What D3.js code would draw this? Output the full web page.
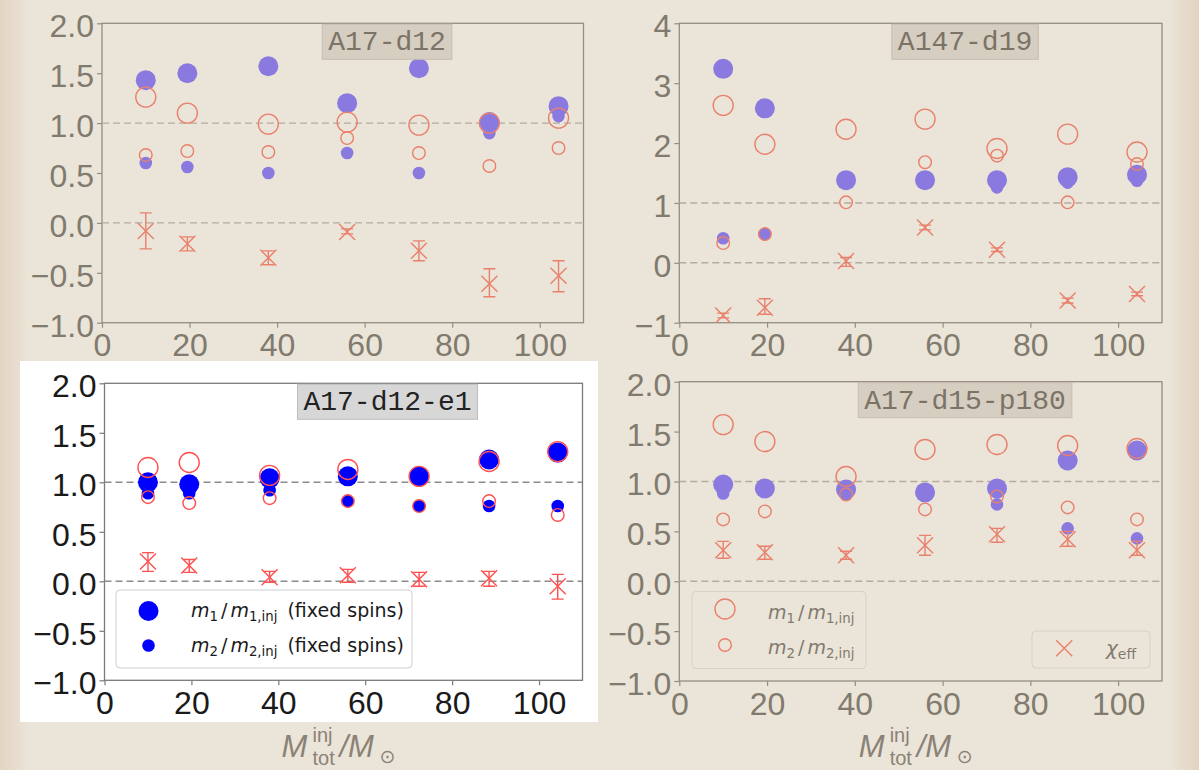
<!DOCTYPE html>
<html><head><meta charset="utf-8">
<script src="https://cdn.jsdelivr.net/npm/d3@7"></script>
<style>body{margin:0;background:#ebe4d8;} svg{display:block}</style>
</head><body>
<svg id="chart" width="1199" height="770"></svg>
<script>
// ---------------- DATA ----------------
const masses = [10, 19.5, 38, 56, 72.4, 88.5, 104.3];
const xTicks = [0, 20, 40, 60, 80, 100];
const yTicksUnit = [-1, -0.5, 0, 0.5, 1, 1.5, 2];
const yTicksWide = [-1, 0, 1, 2, 3, 4];

// A17-d12
const d12_m1Fixed = [1.43, 1.50, 1.57, 1.20, 1.55, 1.01, 1.17];
const d12_m2Fixed = [0.60, 0.56, 0.50, 0.70, 0.50, 0.90, 1.07];
const d12_m1 = [1.26, 1.10, 0.99, 1.01, 0.98, 1.00, 1.05];
const d12_m2 = [0.68, 0.72, 0.71, 0.85, 0.70, 0.57, 0.75];
const d12_chi = [-0.08, -0.21, -0.35, -0.09, -0.28, -0.61, -0.53];
const d12_chiLo = [-0.26, -0.28, -0.42, -0.11, -0.38, -0.74, -0.69];
const d12_chiHi = [0.10, -0.14, -0.28, -0.06, -0.18, -0.46, -0.38];

// A147-d19
const d19_m1Fixed = [3.24, 2.58, 1.38, 1.38, 1.38, 1.43, 1.47];
const d19_m2Fixed = [0.41, 0.48, 1.32, 1.33, 1.26, 1.34, 1.37];
const d19_m1 = [2.63, 1.98, 2.23, 2.40, 1.91, 2.15, 1.85];
const d19_m2 = [0.33, 0.48, 1.01, 1.68, 1.79, 1.01, 1.65];
const d19_chi = [-0.88, -0.75, 0.03, 0.59, 0.22, -0.63, -0.52];
const d19_chiLo = [-0.92, -0.86, -0.06, 0.55, 0.19, -0.67, -0.55];
const d19_chiHi = [-0.84, -0.60, 0.09, 0.63, 0.25, -0.59, -0.49];

// A17-d12-e1
const e1_m1Fixed = [1.00, 0.98, 1.04, 1.06, 1.06, 1.23, 1.30];
const e1_m2Fixed = [0.89, 0.89, 0.92, 0.81, 0.76, 0.76, 0.76];
const e1_m1 = [1.15, 1.20, 1.07, 1.13, 1.06, 1.21, 1.31];
const e1_m2 = [0.85, 0.79, 0.84, 0.81, 0.76, 0.81, 0.67];
const e1_chi = [0.20, 0.16, 0.04, 0.06, 0.02, 0.03, -0.05];
const e1_chiLo = [0.10, 0.09, -0.01, -0.01, -0.05, -0.05, -0.18];
const e1_chiHi = [0.29, 0.22, 0.10, 0.12, 0.09, 0.10, 0.07];

// A17-d15-p180
const p180_m1Fixed = [0.97, 0.93, 0.92, 0.89, 0.93, 1.21, 1.31];
const p180_m2Fixed = [0.88, 0.93, 0.87, 0.89, 0.77, 0.53, 0.43];
const p180_m1 = [1.57, 1.40, 1.05, 1.32, 1.37, 1.36, 1.33];
const p180_m2 = [0.62, 0.70, 0.87, 0.72, 0.85, 0.74, 0.62];
const p180_chi = [0.31, 0.29, 0.26, 0.36, 0.47, 0.42, 0.31];
const p180_chiLo = [0.23, 0.22, 0.22, 0.26, 0.39, 0.35, 0.26];
const p180_chiHi = [0.40, 0.35, 0.30, 0.46, 0.53, 0.50, 0.40];

// ---------------- STYLE ----------------
const faded = {
  blue: "#8a7ae0", red: "#e9806c", text: "#817a6e", frame: "#958d80",
  dash: "#b3ab9d", titleFill: "#d6cec1", titleStroke: "#c6bdaf", titleText: "#7b7366",
  legendFill: "#ebe4d8", legendStroke: "#d9d0c2"
};
const vivid = {
  blue: "#0000ff", red: "#ff5050", text: "#1a1a1a", frame: "#7a7a7a",
  dash: "#8c8c8c", titleFill: "#d7d7d7", titleStroke: "#bdbdbd", titleText: "#222",
  legendFill: "#ffffff", legendStroke: "#cfcfcf"
};

const svg = d3.select("#chart");
const defs = svg.append("defs");
const grad = defs.append("linearGradient").attr("id", "paper").attr("x1", 0).attr("x2", 1).attr("y1", 0).attr("y2", 0);
grad.append("stop").attr("offset", "0").attr("stop-color", "#e2d5c2");
grad.append("stop").attr("offset", "0.025").attr("stop-color", "#ebe4d8");
grad.append("stop").attr("offset", "0.975").attr("stop-color", "#ebe4d8");
grad.append("stop").attr("offset", "1").attr("stop-color", "#e1d3bf");
svg.append("rect").attr("width", 1199).attr("height", 770).attr("fill", "url(#paper)");

// white card behind the third panel
svg.append("rect").attr("x", 20).attr("y", 361).attr("width", 578).attr("height", 361).attr("fill", "#ffffff");

const panels = [
  {id: "p1", title: "A17-d12", left: 102, right: 583.5, top: 23.3, bottom: 322.7, yDomain: [-1, 2], yTicks: yTicksUnit, fmt: d3.format(".1f"), st: faded,
   m1F: d12_m1Fixed, m2F: d12_m2Fixed, m1: d12_m1, m2: d12_m2, chi: d12_chi, lo: d12_chiLo, hi: d12_chiHi},
  {id: "p2", title: "A147-d19", left: 679.3, right: 1162, top: 23.3, bottom: 322.7, yDomain: [-1, 4], yTicks: yTicksWide, fmt: d3.format("d"), st: faded,
   m1F: d19_m1Fixed, m2F: d19_m2Fixed, m1: d19_m1, m2: d19_m2, chi: d19_chi, lo: d19_chiLo, hi: d19_chiHi},
  {id: "p3", title: "A17-d12-e1", left: 104.5, right: 582.5, top: 383.3, bottom: 680.3, yDomain: [-1, 2], yTicks: yTicksUnit, fmt: d3.format(".1f"), st: vivid,
   m1F: e1_m1Fixed, m2F: e1_m2Fixed, m1: e1_m1, m2: e1_m2, chi: e1_chi, lo: e1_chiLo, hi: e1_chiHi},
  {id: "p4", title: "A17-d15-p180", left: 679.3, right: 1162, top: 381.7, bottom: 681, yDomain: [-1, 2], yTicks: yTicksUnit, fmt: d3.format(".1f"), st: faded,
   m1F: p180_m1Fixed, m2F: p180_m2Fixed, m1: p180_m1, m2: p180_m2, chi: p180_chi, lo: p180_chiLo, hi: p180_chiHi}
];

const RBIG = 10, RSMALL = 6.3, XS = 8, CAP = 6;

function xMark(g, cx, cy, s, color, w) {
  g.append("path").attr("d", `M${cx - s},${cy - s}L${cx + s},${cy + s}M${cx - s},${cy + s}L${cx + s},${cy - s}`)
    .attr("stroke", color).attr("stroke-width", w).attr("fill", "none");
}

panels.forEach(p => {
  const st = p.st;
  const x = d3.scaleLinear().domain([0, 110]).range([p.left, p.right]);
  const y = d3.scaleLinear().domain(p.yDomain).range([p.bottom, p.top]);
  const g = svg.append("g");

  defs.append("clipPath").attr("id", "clip-" + p.id).append("rect")
    .attr("x", p.left).attr("y", p.top).attr("width", p.right - p.left).attr("height", p.bottom - p.top);

  const ya = g.append("g").attr("transform", `translate(${p.left},0)`)
    .call(d3.axisLeft(y).tickValues(p.yTicks).tickFormat(p.fmt).tickSize(5).tickPadding(3));
  const xa = g.append("g").attr("transform", `translate(0,${p.bottom})`)
    .call(d3.axisBottom(x).tickValues(xTicks).tickSize(5).tickPadding(6));
  [ya, xa].forEach(a => {
    a.select(".domain").remove();
    a.selectAll(".tick line").attr("stroke", st.frame).attr("stroke-width", 1.2);
    a.selectAll(".tick text").attr("fill", st.text).style("font-family", "'Liberation Sans', Arial, sans-serif").style("font-size", "32px");
  });
  ya.selectAll(".tick text").attr("dy", "0.42em");

  g.append("rect").attr("x", p.left).attr("y", p.top).attr("width", p.right - p.left).attr("height", p.bottom - p.top)
    .attr("fill", "none").attr("stroke", st.frame).attr("stroke-width", 1.3);

  const plot = g.append("g").attr("clip-path", `url(#clip-${p.id})`);

  [0, 1].forEach(v => {
    plot.append("line").attr("x1", p.left).attr("x2", p.right).attr("y1", y(v)).attr("y2", y(v))
      .attr("stroke", st.dash).attr("stroke-width", 1.4).attr("stroke-dasharray", "7,4");
  });

  plot.selectAll(".b1").data(p.m1F).join("circle").attr("cx", (d, i) => x(masses[i])).attr("cy", d => y(d)).attr("r", RBIG).attr("fill", st.blue);
  plot.selectAll(".b2").data(p.m2F).join("circle").attr("cx", (d, i) => x(masses[i])).attr("cy", d => y(d)).attr("r", RSMALL).attr("fill", st.blue);
  plot.selectAll(".r1").data(p.m1).join("circle").attr("cx", (d, i) => x(masses[i])).attr("cy", d => y(d)).attr("r", RBIG)
    .attr("fill", "none").attr("stroke", st.red).attr("stroke-width", 1.4);
  plot.selectAll(".r2").data(p.m2).join("circle").attr("cx", (d, i) => x(masses[i])).attr("cy", d => y(d)).attr("r", RSMALL)
    .attr("fill", "none").attr("stroke", st.red).attr("stroke-width", 1.4);
  p.chi.forEach((c, i) => {
    const cx = x(masses[i]);
    const y0 = y(p.lo[i]), y1 = y(p.hi[i]);
    plot.append("path").attr("d", `M${cx},${y0}L${cx},${y1}M${cx - CAP},${y0}L${cx + CAP},${y0}M${cx - CAP},${y1}L${cx + CAP},${y1}`)
      .attr("stroke", st.red).attr("stroke-width", 1.4).attr("fill", "none");
    xMark(plot, cx, y(c), XS, st.red, 1.4);
  });

  const cxT = p.left + 0.592 * (p.right - p.left);
  const tg = g.append("g");
  const tt = tg.append("text").text(p.title).attr("x", cxT).attr("y", p.top + 27).attr("text-anchor", "middle")
    .attr("fill", st.titleText).style("font-family", "'Liberation Mono', 'DejaVu Sans Mono', monospace").style("font-size", "28px");
  const w = tt.node().getComputedTextLength() + 12;
  tg.insert("rect", "text").attr("x", cxT - w / 2).attr("y", p.top + 1).attr("width", w).attr("height", 35)
    .attr("fill", st.titleFill).attr("stroke", st.titleStroke).attr("stroke-width", 1);
});

function mathText(g, x, y, parts, size, color, family) {
  const t = g.append("text").attr("x", x).attr("y", y).attr("fill", color)
    .style("font-family", family).style("font-size", size + "px");
  let shift = 0;
  parts.forEach(pt => {
    const want = pt.sub ? size * 0.22 : (pt.sup ? -size * 0.4 : 0);
    const ts = t.append("tspan").text(pt.t).attr("dy", want - shift);
    if (pt.dx) ts.attr("dx", pt.dx);
    shift = want;
    if (pt.it) ts.style("font-style", "italic");
    if (pt.sub || pt.sup) ts.style("font-size", (size * 0.7) + "px");
  });
  return t;
}

const fam = "'DejaVu Sans', sans-serif";
function ratio(k) {
  return [{t: "m", it: true}, {t: k, sub: true}, {t: "/", dx: 3}, {t: "m", it: true, dx: 3}, {t: k + ",inj", sub: true}];
}

// legend in panel 3 (fixed spins)
{
  const lg = svg.append("g");
  lg.append("rect").attr("x", 116).attr("y", 590).attr("width", 296).attr("height", 78).attr("rx", 4)
    .attr("fill", "#ffffff").attr("stroke", vivid.legendStroke).attr("stroke-width", 1);
  lg.append("circle").attr("cx", 148.5).attr("cy", 611).attr("r", RBIG).attr("fill", vivid.blue);
  lg.append("circle").attr("cx", 148.5).attr("cy", 645.5).attr("r", RSMALL).attr("fill", vivid.blue);
  mathText(lg, 191, 617, ratio("1").concat([{t: " (fixed spins)", dx: 4}]), 19, vivid.text, fam);
  mathText(lg, 191, 652, ratio("2").concat([{t: " (fixed spins)", dx: 4}]), 19, vivid.text, fam);
}

// legends in panel 4
{
  const lg = svg.append("g");
  lg.append("rect").attr("x", 692).attr("y", 591.5).attr("width", 174).attr("height", 77).attr("rx", 4)
    .attr("fill", faded.legendFill).attr("stroke", faded.legendStroke).attr("stroke-width", 1);
  lg.append("circle").attr("cx", 725).attr("cy", 609).attr("r", RBIG).attr("fill", "none").attr("stroke", faded.red).attr("stroke-width", 1.4);
  lg.append("circle").attr("cx", 725).attr("cy", 645).attr("r", RSMALL).attr("fill", "none").attr("stroke", faded.red).attr("stroke-width", 1.4);
  mathText(lg, 768, 619, ratio("1"), 19, faded.text, fam);
  mathText(lg, 768, 654, ratio("2"), 19, faded.text, fam);

  lg.append("rect").attr("x", 1032).attr("y", 631).attr("width", 118).attr("height", 37).attr("rx", 4)
    .attr("fill", faded.legendFill).attr("stroke", faded.legendStroke).attr("stroke-width", 1);
  xMark(lg, 1064.2, 648.3, XS, faded.red, 1.4);
  mathText(lg, 1106, 655, [{t: "χ", it: true}, {t: "eff", sub: true}], 20, faded.text, fam);
}

// x-axis labels
function xLabel(cx) {
  const g = svg.append("g").attr("fill", "#8a8276").style("font-family", "'Liberation Sans', Arial, sans-serif");
  const l = cx - 62;
  g.append("text").attr("x", l).attr("y", 757).style("font-size", "31px").style("font-style", "italic").text("M");
  g.append("text").attr("x", l + 31).attr("y", 742).style("font-size", "20px").text("inj");
  g.append("text").attr("x", l + 31).attr("y", 765).style("font-size", "20px").text("tot");
  g.append("text").attr("x", l + 58).attr("y", 757).style("font-size", "31px").style("font-style", "italic").text("/M");
  g.append("text").attr("x", l + 98).attr("y", 763).style("font-size", "19px").style("font-family", "'DejaVu Sans', sans-serif").text("⊙");
}
xLabel((104.5 + 582.5) / 2);
xLabel((679.3 + 1162) / 2);
</script>
</body></html>
